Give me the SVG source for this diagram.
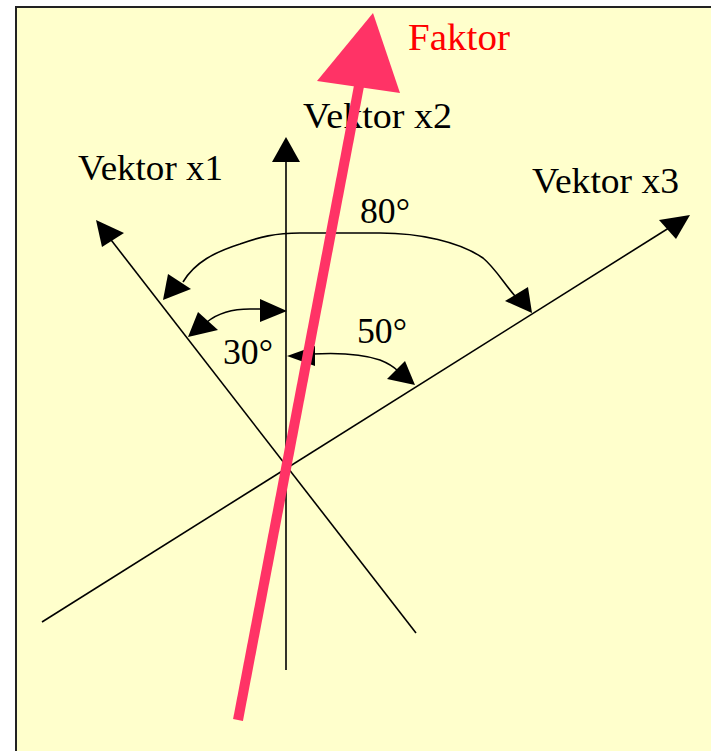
<svg xmlns="http://www.w3.org/2000/svg" width="711" height="751" viewBox="0 0 711 751">
  <style>
    .ln { stroke: #000; stroke-width: 1.6; fill: none; }
    .ah { fill: #000; stroke: none; }
    .lbl { font-family: "Liberation Serif", "Times New Roman", serif; font-size: 36px; fill: #000; }
    .fk { font-family: "Liberation Serif", "Times New Roman", serif; font-size: 37px; fill: #FF0000; }
  </style>
  <rect x="0" y="0" width="711" height="751" fill="#FFFFFF"/>
  <rect x="16" y="7" width="700" height="750" fill="#FFFFCC"/>
  <path d="M16 751 L16 7 L711 7" stroke="#222" stroke-width="2" fill="none"/>

  <g id="connectors">
    <g id="vektor-x2-axis">
      <line class="ln" x1="286" y1="670" x2="286" y2="158"/>
      <polygon class="ah" points="286,137 272,162 300,162"/>
    </g>
    <g id="vektor-x1-axis">
      <line class="ln" x1="416" y1="633" x2="108" y2="236"/>
      <polygon class="ah" points="96,220 102,247 124,233"/>
    </g>
    <g id="vektor-x3-axis">
      <line class="ln" x1="42" y1="622" x2="672" y2="226"/>
      <polygon class="ah" points="690,215 659,220 676,239"/>
    </g>
    <g id="arc-80">
      <path class="ln" d="M183 282 C195 262 215 252 240 244 C260 237 275 233 300 233 L380 233 C420 233 460 242 483 258 C495 268 503 282 515 296"/>
      <polygon class="ah" points="163,300 168,274 191,289"/>
      <polygon class="ah" points="532,313 505,301 528,287"/>
    </g>
    <g id="arc-30">
      <path class="ln" d="M207 322 C218 313 232 309 250 309 L264 309"/>
      <polygon class="ah" points="188,337 198,312 218,330"/>
      <polygon class="ah" points="287,311 260,299 260,322"/>
    </g>
    <g id="arc-50">
      <path class="ln" d="M312 354 C330 353 360 353 380 360 C390 364 395 368 398 371"/>
      <polygon class="ah" points="287,356 315,346 315,366"/>
      <polygon class="ah" points="415,385 387,379 405,361"/>
    </g>
  </g>

  <g id="labels">
    <g id="label-x1"><text class="lbl" x="78" y="180" textLength="145" lengthAdjust="spacingAndGlyphs">Vektor x1</text></g>
    <g id="label-x2"><text class="lbl" x="303" y="128" textLength="149" lengthAdjust="spacingAndGlyphs">Vektor x2</text></g>
    <g id="label-x3"><text class="lbl" x="532" y="193" textLength="147" lengthAdjust="spacingAndGlyphs">Vektor x3</text></g>
    <g id="label-80"><text class="lbl" x="360" y="223" textLength="50" lengthAdjust="spacingAndGlyphs">80°</text></g>
    <g id="label-30"><text class="lbl" x="223" y="364" textLength="50" lengthAdjust="spacingAndGlyphs">30°</text></g>
    <g id="label-50"><text class="lbl" x="357" y="343" textLength="50" lengthAdjust="spacingAndGlyphs">50°</text></g>
  </g>

  <g id="faktor">
    <line x1="238" y1="720" x2="359" y2="86" stroke="#FF3366" stroke-width="10"/>
    <polygon points="373,13 317,81 400,93" fill="#FF3366"/>
    <text class="fk" x="408" y="50" textLength="102" lengthAdjust="spacingAndGlyphs">Faktor</text>
  </g>
</svg>
